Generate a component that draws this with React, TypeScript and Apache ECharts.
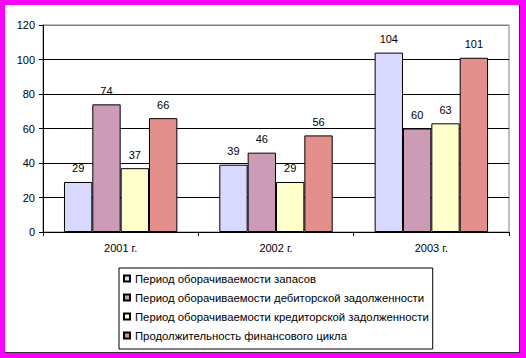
import React, { useEffect, useRef } from "react";
import * as echarts from "echarts";

const categories = ["2001 г.", "2002 г.", "2003 г."];
const seriesNames = [
  "Период оборачиваемости запасов",
  "Период оборачиваемости дебиторской задолженности",
  "Период оборачиваемости кредиторской задолженности",
  "Продолжительность финансового цикла",
];
const inventoryPeriod = [29, 39, 104];
const receivablesPeriod = [74, 46, 60];
const payablesPeriod = [37, 29, 63];
const cyclePeriod = [66, 56, 101];
const seriesColors = ["#D9D9FF", "#CC9BB8", "#FFFFCC", "#E38F8C"];
const yTicks = { min: 0, max: 120, interval: 20 };

const FONT = "'Liberation Sans', Arial, sans-serif";

export default function App() {
  const ref = useRef<HTMLDivElement>(null);
  useEffect(() => {
    document.body.style.margin = "0";
    if (!ref.current) return;
    const chart = echarts.init(ref.current, null, { renderer: "svg" });
    const values = [inventoryPeriod, receivablesPeriod, payablesPeriod, cyclePeriod];
    chart.setOption({
      animation: false,
      textStyle: { fontFamily: FONT },
      grid: {
        left: 43,
        right: 17,
        top: 25,
        bottom: 126,
        show: true,
        borderColor: "#808080",
        borderWidth: 1,
        backgroundColor: "transparent",
      },
      legend: {
        orient: "vertical",
        left: 119,
        top: 268,
        padding: [4, 4, 7, 4],
        itemGap: 6,
        itemWidth: 6,
        itemHeight: 6,
        icon: "rect",
        borderColor: "#000",
        borderWidth: 1,
        backgroundColor: "#fff",
        borderRadius: 0,
        textStyle: { fontFamily: FONT, fontSize: 11.3, lineHeight: 13, color: "#000" },
        data: seriesNames,
      },
      xAxis: {
        type: "category",
        data: categories,
        axisLine: { lineStyle: { color: "#000", width: 1 } },
        axisTick: { show: true, length: 4, lineStyle: { color: "#000" } },
        axisLabel: { fontFamily: FONT, fontSize: 11, color: "#000", margin: 10 },
      },
      yAxis: {
        type: "value",
        min: yTicks.min,
        max: yTicks.max,
        interval: yTicks.interval,
        axisLine: { show: true, lineStyle: { color: "#000", width: 1 } },
        axisTick: { show: true, length: 4, lineStyle: { color: "#000" } },
        axisLabel: { fontFamily: FONT, fontSize: 11, color: "#000", margin: 8 },
        splitLine: {
          show: true,
          lineStyle: {
            color: ["#000", "#000", "#000", "#000", "#000", "#000", "#808080"],
            width: 1,
          },
        },
      },
      series: seriesNames.map((name, i) => ({
        name,
        type: "bar",
        data: values[i],
        barGap: "0%",
        barCategoryGap: "27%",
        itemStyle: { color: seriesColors[i], borderColor: "#000", borderWidth: 1 },
        label: {
          show: true,
          position: "top",
          distance: 8,
          fontFamily: FONT,
          fontSize: 11,
          color: "#000",
        },
      })),
    });
    return () => chart.dispose();
  }, []);
  return (
    <div style={{ position: "relative", width: 526, height: 358, background: "#FF00FF" }}>
      <div
        style={{
          position: "absolute",
          left: 5,
          top: 5,
          width: 515,
          height: 348,
          background: "#fff",
          boxSizing: "border-box",
          borderRight: "1px solid #333",
          borderBottom: "1px solid #333",
        }}
      />
      <div ref={ref} style={{ position: "absolute", left: 0, top: 0, width: 526, height: 358 }} />
    </div>
  );
}
